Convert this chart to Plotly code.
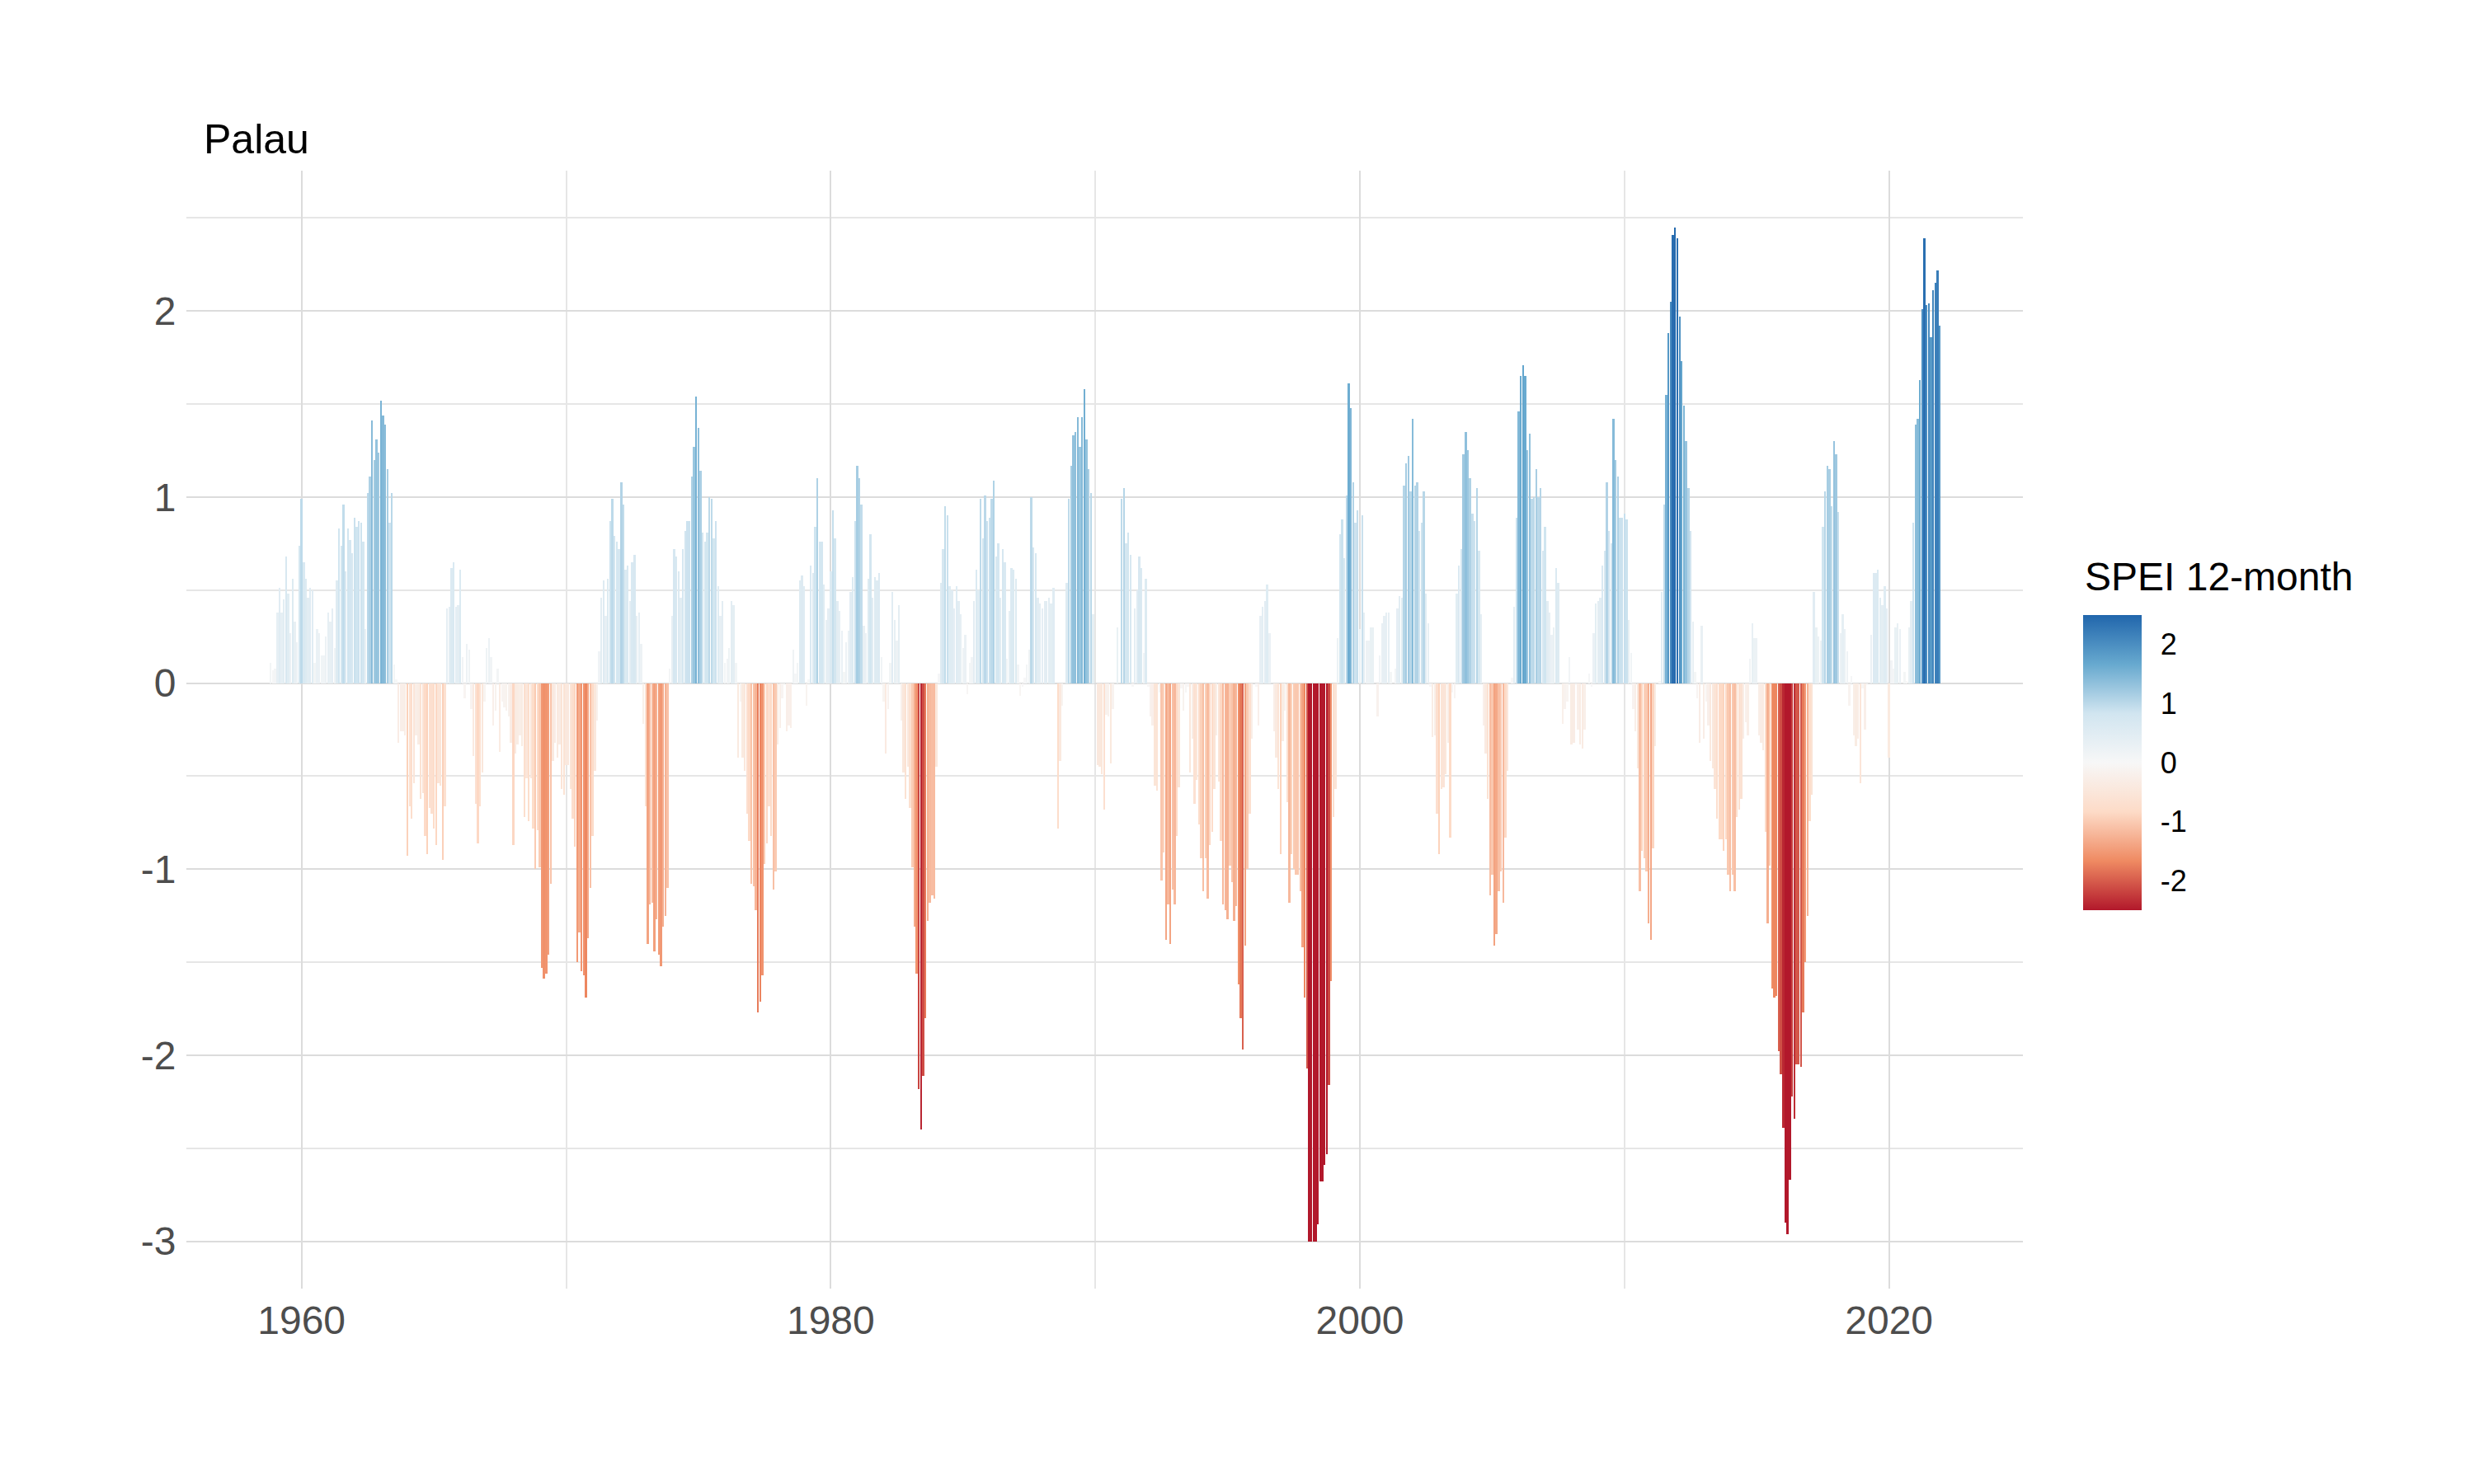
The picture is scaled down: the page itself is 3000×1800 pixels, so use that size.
import pandas as pd
import plotly.graph_objects as go

# Monthly SPEI 12-month values for Palau (Nov 1958 - Dec 2021)
spei_1958_1963 = [0.11, 0.07, 0.08, 0.38, 0.51, 0.38, 0.45, 0.68, 0.48, 0.27, 0.56, 0.33, 0.22, 0.74, 0.99, 0.65,
                  0.56, 0.46, 0.51, 0.50, 0.11, 0.29, 0.27, 0.15, 0.15, 0.25, 0.38, 0.33, 0.40, 0.19, 0.55, 0.83,
                  0.74, 0.96, 0.60, 0.83, 0.77, 0.70, 0.89, 0.84, 0.87, 0.86, 0.76, 0.29, 1.02, 1.11, 1.41, 1.20,
                  1.31, 1.24, 1.52, 1.44, 1.39, 1.15, 0.86, 1.02, 0.10, 0.02, -0.32, -0.26, -0.26, -0.28, -0.93]
spei_1964_1969 = [-0.66, -0.73, -0.54, -0.28, -0.33, -0.62, -0.59, -0.82, -0.92, -0.67, -0.70, -0.78, -0.87, -0.54,
                  -0.55, -0.95, -0.66, 0.40, 0.41, 0.62, 0.65, 0.41, 0.42, 0.61, 0.14, -0.08, 0.21, 0.18, -0.14,
                  -0.39, -0.65, -0.86, -0.66, -0.48, -0.10, 0.19, 0.24, 0.14, -0.23, -0.15, 0.08, -0.37, -0.10,
                  -0.13, -0.15, -0.18, -0.32, -0.87, -0.38, -0.33, -0.28, -0.34, -0.72, -0.51, -0.74, -0.51, -0.78,
                  -1.00, -0.79, -0.99, -1.53, -1.59, -1.56, -1.46]
spei_1969_1974 = [-1.08, -0.42, -0.32, -0.40, -0.33, -0.57, -0.60, -0.44, -0.44, -0.57, -0.73, -0.88, -1.50, -1.34,
                  -1.55, -1.57, -1.69, -1.37, -1.10, -0.82, -0.47, -0.20, 0.17, 0.46, 0.55, 0.36, 0.56, 0.87, 0.99,
                  0.79, 0.76, 0.72, 1.08, 0.96, 0.61, 0.63, 0.44, 0.65, 0.69, 0.36, 0.38, 0.21, -0.22, -0.66, -1.40,
                  -1.19, -1.18, -1.44, -1.27, -1.46, -1.52, -1.31, -1.25, -1.10, 0.08, 0.36, 0.72, 0.68, 0.60, 0.46,
                  0.72, 0.82, 0.87]
spei_1974_1979 = [0.87, 1.11, 1.27, 1.54, 1.37, 1.14, 0.81, 0.76, 0.81, 1.00, 0.99, 0.78, 0.87, 0.52, 0.36, 0.44,
                  0.11, 0.13, 0.19, 0.44, 0.42, 0.11, -0.40, -0.10, -0.40, -0.47, -0.70, -0.85, -1.08, -1.09, -1.22,
                  -1.77, -1.71, -1.57, -0.97, -0.86, -0.66, -0.82, -1.11, -1.01, -0.33, -0.24, -0.08, -0.01, -0.26,
                  -0.23, -0.24, 0.18, 0.05, 0.11, 0.55, 0.58, 0.52, -0.12, 0.02, 0.63, 0.59, 0.84, 1.10, 0.76, 0.76,
                  0.53, 0.34, 0.40]
spei_1980_1985 = [0.60, 0.93, 0.78, 0.44, 0.39, 0.28, 0.06, 0.22, 0.28, 0.49, 0.57, 0.87, 1.17, 1.10, 0.96, 0.31,
                  0.27, 0.56, 0.80, 0.46, 0.57, 0.55, 0.59, 0.14, -0.10, -0.38, -0.14, 0.11, 0.49, 0.34, 0.23, 0.42,
                  -0.20, -0.48, -0.62, -0.45, -0.67, -0.99, -1.31, -1.56, -2.18, -2.40, -2.11, -1.80, -1.28, -1.18,
                  -1.14, -1.16, -0.45, 0.05, 0.54, 0.72, 0.95, 0.90, 0.52, 0.50, 0.40, 0.52, 0.44, 0.37, 0.19, 0.26,
                  -0.06, 0.11]
spei_1985_1990 = [0.14, 0.44, 0.61, 0.50, 0.99, 0.78, 1.01, 0.87, 0.89, 0.99, 1.09, 0.68, 0.75, 0.46, 0.72, 0.65,
                  0.13, 0.39, 0.62, 0.61, 0.56, 0.10, -0.07, -0.02, 0.03, 0.10, 0.18, 1.00, 0.73, 0.70, 0.46, 0.43,
                  0.40, 0.44, 0.44, 0.46, 0.43, 0.51, 0.0, -0.78, -0.42, -0.12, 0.0, 0.54, 0.99, 1.17, 1.33, 1.35,
                  1.43, 1.27, 1.43, 1.58, 1.31, 1.15, 1.02, 0.37, 0.0, -0.44, -0.45, -0.49, -0.68, -0.17, -0.18]
spei_1990_1995 = [-0.43, -0.14, 0.0, 0.30, 0.0, 0.99, 1.05, 0.75, 0.81, 0.69, -0.02, 0.40, 0.50, 0.68, 0.62, 0.16,
                  0.56, -0.02, -0.18, -0.23, -0.55, -0.58, -0.05, -1.06, -0.91, -1.38, -1.19, -1.40, -1.11, -1.19,
                  -0.82, -0.56, -0.03, -0.15, -0.05, -0.02, -0.48, -0.30, -0.65, -0.52, -0.76, -0.94, -1.12, -0.94,
                  -1.16, -0.87, -0.80, -0.57, -0.28, -0.53, -0.85, -1.19, -1.22, -1.27, -0.98, -1.07, -1.28, -1.20,
                  -1.62, -1.80, -1.97, -1.41, -1.00, -0.70]
spei_1995_2000 = [-0.30, 0.0, -0.02, -0.23, 0.36, 0.41, 0.44, 0.53, 0.27, 0.0, -0.26, -0.40, -0.57, -0.92, -0.31,
                  -0.15, -0.64, -1.18, -0.92, -1.00, -1.03, -1.03, -1.12, -1.42, -1.69, -2.07, -3.00, -3.00, -3.00,
                  -3.00, -2.91, -2.68, -2.68, -2.59, -2.53, -2.16, -1.60, -0.72, -0.57, 0.24, 0.80, 0.88, 0.67, 1.01,
                  1.61, 1.48, 1.08, 0.86, 0.93, 0.29, 0.90, 0.38, 0.23, 0.23, 0.30, 0.30, 0.0, -0.18, 0.15, 0.32,
                  0.36, 0.38, 0.38]
spei_2001_2006 = [0.06, 0.0, 0.08, 0.40, 0.47, 0.46, 1.06, 1.18, 1.22, 1.03, 1.42, 1.06, 1.08, 0.82, 0.86, 1.03,
                  0.48, 0.32, -0.02, -0.29, -0.28, -0.70, -0.92, -0.57, -0.56, -0.49, -0.32, -0.83, -0.05, -0.08,
                  0.48, 0.63, 0.72, 1.23, 1.35, 1.25, 1.10, 0.91, 0.87, 1.05, 0.71, 0.37, -0.23, -0.38, -0.62, -1.14,
                  -1.03, -1.41, -1.35, -1.12, -1.01, -1.18, -0.83, -0.47, 0.0, 0.03, 0.41, 0.89, 1.46, 1.65, 1.71,
                  1.65, 1.25, 1.34]
spei_2006_2011 = [0.99, 1.00, 1.15, 1.00, 1.05, 0.71, 0.84, 0.44, 0.38, 0.26, 0.30, 0.62, 0.54, 0.0, -0.22, -0.14,
                  -0.10, 0.14, -0.33, -0.32, -0.01, -0.25, -0.33, -0.35, -0.25, 0.0, 0.05, -0.02, 0.27, 0.43, 0.44,
                  0.46, 0.63, 0.71, 1.08, 0.82, 0.75, 1.42, 1.20, 1.11, 0.89, 0.89, 0.91, 0.88, 0.34, 0.16, -0.14,
                  -0.26, -0.46, -1.12, -0.90, -0.94, -1.01, -1.29, -1.38, -0.89, -0.34, 0.0, 0.01, 0.49, 0.96, 1.55,
                  1.88, 2.05]
spei_2011_2017 = [2.41, 2.45, 2.39, 1.97, 1.73, 1.49, 1.30, 1.05, 0.82, 0.33, 0.06, -0.08, -0.32, 0.31, -0.30,
                  -0.10, -0.23, -0.42, -0.46, -0.57, -0.73, -0.84, -0.84, -0.90, -0.84, -1.03, -1.12, -1.03, -1.12,
                  -0.72, -0.68, -0.62, -0.30, -0.21, -0.28, 0.13, 0.32, 0.24, 0.24, -0.28, -0.32, -0.36, -0.80,
                  -1.29, -0.98, -1.64, -1.69, -1.68, -1.98, -2.10, -2.39, -2.90, -2.96, -2.67, -2.22, -2.34, -2.05,
                  -2.05, -2.06, -1.77, -1.50, -1.25, -0.74, -0.60]
spei_2017_2021 = [0.49, 0.30, 0.25, 0.23, 0.84, 1.03, 1.17, 1.15, 0.95, 1.30, 1.23, 0.92, 0.27, 0.37, 0.29, 0.17,
                  -0.12, 0.04, -0.28, -0.34, -0.30, -0.54, -0.03, -0.25, -0.01, 0.0, 0.26, 0.59, 0.59, 0.61, 0.46,
                  0.42, 0.52, 0.40, -0.40, 0.12, 0.08, 0.30, 0.32, 0.29, 0.0, 0.06, 0.01, 0.30, 0.44, 0.86, 1.39,
                  1.42, 1.63, 2.01, 2.39, 2.03, 2.04, 1.86, 2.11, 2.15, 2.22, 1.92]

spei = (spei_1958_1963 + spei_1964_1969 + spei_1969_1974 + spei_1974_1979 + spei_1980_1985 +
        spei_1985_1990 + spei_1990_1995 + spei_1995_2000 + spei_2001_2006 + spei_2006_2011 +
        spei_2011_2017 + spei_2017_2021)
dates = pd.date_range("1958-11-01", periods=len(spei), freq="MS")

x_tick_years = ["1960", "1980", "2000", "2020"]
x_minor_years = ["1970", "1990", "2010"]
y_ticks = [-3, -2, -1, 0, 1, 2]
y_minor = [-2.5, -1.5, -0.5, 0.5, 1.5, 2.5]
cbar_ticks = [-2, -1, 0, 1, 2]

rdbu = [[0.0, "#B2182B"], [1 / 6, "#EF8A62"], [2 / 6, "#FDDBC7"], [0.5, "#F7F7F7"],
        [4 / 6, "#D1E5F0"], [5 / 6, "#67A9CF"], [1.0, "#2166AC"]]

FONT = "Liberation Sans, Arial, sans-serif"

# plot panel in pixels
L, R, T, B = 218, 555, 199, 245
PW, PH = 3000 - L - R, 1800 - T - B

fig = go.Figure()
fig.add_trace(go.Bar(
    x=dates, y=spei,
    width=27 * 86400000,
    marker=dict(
        color=spei, colorscale=rdbu, cmin=-2.5, cmax=2.5, line=dict(width=0),
        colorbar=dict(
            x=(2518 - L) / PW, xanchor="left", y=(883 - B) / PH, yanchor="middle",
            lenmode="pixels", len=358, thickness=71, outlinewidth=0,
            tickvals=cbar_ticks, ticktext=[str(v) for v in cbar_ticks],
            ticks="outside", ticklen=16, tickcolor="rgba(0,0,0,0)",
            tickfont=dict(size=36, color="#000000", family=FONT), ypad=0, xpad=0,
        ),
    ),
    hoverinfo="x+y",
))

fig.add_annotation(
    text="SPEI 12-month", xref="paper", yref="paper",
    x=(2518 - L) / PW, xanchor="left", y=(1109 - B) / PH, yanchor="middle",
    showarrow=False, font=dict(size=48, color="#000000", family=FONT),
)

fig.update_layout(
    width=3000, height=1800,
    paper_bgcolor="white", plot_bgcolor="white",
    margin=dict(l=L, r=R, t=T, b=B),
    font=dict(family=FONT),
    title=dict(text="Palau", x=239 / 3000, xanchor="left", xref="container",
               y=1 - 160 / 1800, yanchor="middle", yref="container",
               font=dict(size=50, color="#000000", family=FONT)),
    bargap=0,
    showlegend=False,
)
fig.update_xaxes(
    type="date", range=["1955-08-25", "2025-01-22"],
    tickvals=[f"{y}-01-01" for y in x_tick_years], ticktext=x_tick_years,
    tickfont=dict(size=48, color="#4D4D4D", family=FONT),
    ticks="", ticklabelstandoff=6,
    showgrid=True, gridcolor="#DCDCDC", gridwidth=2,
    minor=dict(tickvals=[f"{y}-01-01" for y in x_minor_years], showgrid=True,
               gridcolor="#E6E6E6", gridwidth=1.5, ticks=""),
    zeroline=False, showline=False,
)
fig.update_yaxes(
    range=[-3.254, 2.754],
    tickvals=y_ticks, ticktext=[str(v) for v in y_ticks],
    tickfont=dict(size=48, color="#4D4D4D", family=FONT),
    ticks="outside", ticklen=2, tickcolor="rgba(0,0,0,0)",
    showgrid=True, gridcolor="#DCDCDC", gridwidth=2,
    minor=dict(tickvals=y_minor, showgrid=True, gridcolor="#E6E6E6", gridwidth=1.5, ticks=""),
    zeroline=False, showline=False,
)

fig.write_html("out.html")
